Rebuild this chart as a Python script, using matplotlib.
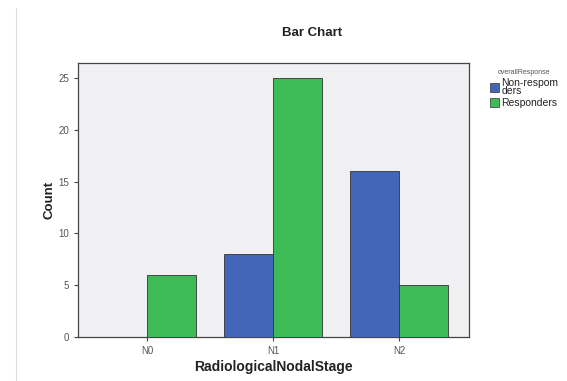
import matplotlib
matplotlib.use("Agg")
import matplotlib.pyplot as plt
import numpy as np
from matplotlib.patches import Patch
from matplotlib.lines import Line2D

plt.rcParams["font.family"] = ["Liberation Sans", "DejaVu Sans"]

categories = ["N0", "N1", "N2"]
non_responders = [0, 8, 16]
responders = [6, 25, 5]
series_labels = ["Non-respom\nders", "Responders"]
colors = ["#4466b8", "#3dbb57"]

fig = plt.figure(figsize=(5.67, 3.81), dpi=100)
fig.patch.set_facecolor("white")
ax = fig.add_axes([78/567, 44/381, 391/567, 274/381])
ax.set_facecolor("#f0f0f2")

x = np.arange(len(categories))
w = 0.39
ax.bar(x - w/2, non_responders, width=w, color=colors[0], edgecolor="#333333", linewidth=0.6, zorder=3)
ax.bar(x + w/2, responders, width=w, color=colors[1], edgecolor="#333333", linewidth=0.6, zorder=3)

ax.set_xlim(-0.548, 2.556)
ax.set_ylim(0, 26.45)
ax.set_xticks(x)
ax.set_xticklabels(categories)
ax.set_yticks([0, 5, 10, 15, 20, 25])
ax.tick_params(axis="both", labelsize=7, labelcolor="#555555", color="#444444", length=3, width=0.8)
for s in ax.spines.values():
    s.set_color("#444444")
    s.set_linewidth(0.9)

ax.set_xlabel("RadiologicalNodalStage", fontsize=10, fontweight="bold", color="#222222", labelpad=3)
ax.set_ylabel("Count", fontsize=9.5, fontweight="bold", color="#222222", labelpad=2)
fig.text(312/567, 1 - 33/381, "Bar Chart", ha="center", va="center", fontsize=9.5, fontweight="bold", color="#222222")

handles = [Patch(facecolor=colors[0], edgecolor="#333333", linewidth=0.5),
           Patch(facecolor=colors[1], edgecolor="#333333", linewidth=0.5)]
leg = fig.legend(handles, series_labels, title="overallResponse", loc="upper left",
                 bbox_to_anchor=(490/567, 1 - 69/381), frameon=False, fontsize=7.5,
                 title_fontsize=5, handlelength=0.9, handleheight=0.9, handletextpad=0.2,
                 labelspacing=0.15, borderaxespad=0, borderpad=0)
leg.get_title().set_color("#555555")
for t in leg.get_texts():
    t.set_color("#222222")
    t.set_linespacing(0.85)

fig.add_artist(Line2D([16/567, 16/567], [0, 1 - 8/381], color="#dddddd", linewidth=0.8))

fig.savefig("out.png", dpi=100)
